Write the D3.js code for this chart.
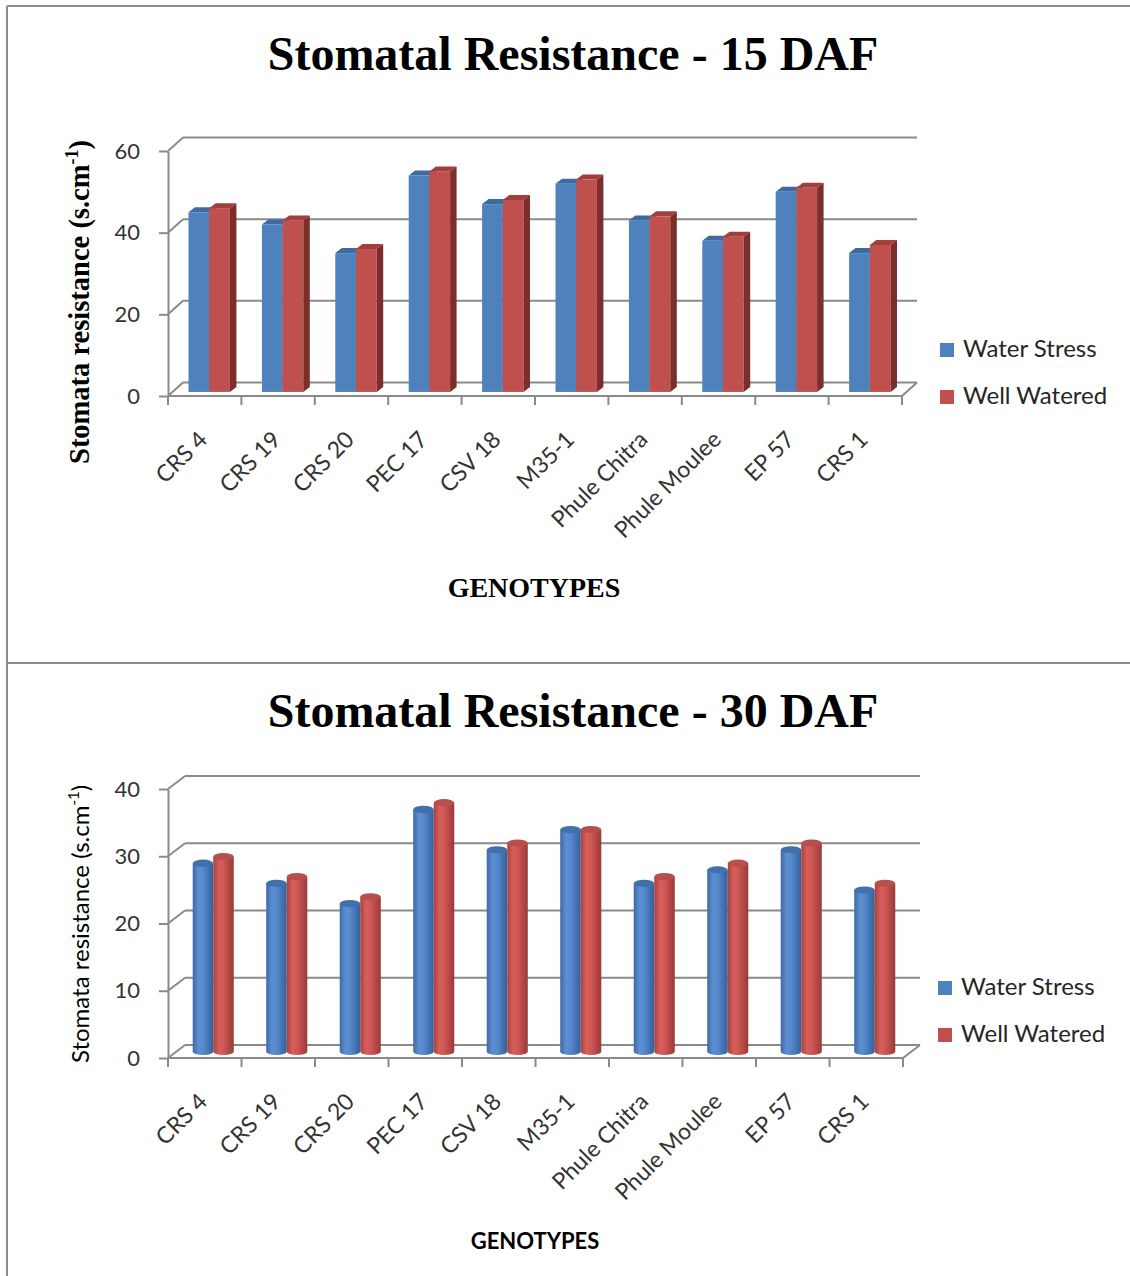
<!DOCTYPE html>
<html>
<head>
<meta charset="utf-8">
<script src="https://cdn.jsdelivr.net/npm/d3@7"></script>
<style>
  body { margin: 0; background: #fff; }
  svg { display: block; }
</style>
</head>
<body>
<svg id="chart" width="1130" height="1276"></svg>
<script>
// Genotypes on the category axis
const genotypes = ["CRS 4", "CRS 19", "CRS 20", "PEC 17", "CSV 18", "M35-1",
                   "Phule Chitra", "Phule Moulee", "EP 57", "CRS 1"];
const seriesNames = ["Water Stress", "Well Watered"];

// Stomatal resistance (s.cm-1), 15 days after flowering
const waterStress15 = [44, 41, 34, 53, 46, 51, 42, 37, 49, 34];
const wellWatered15 = [45, 42, 35, 54, 47, 52, 43, 38, 50, 36];

// Stomatal resistance (s.cm-1), 30 days after flowering
const waterStress30 = [28, 25, 22, 36, 30, 33, 25, 27, 30, 24];
const wellWatered30 = [29, 26, 23, 37, 31, 33, 26, 28, 31, 25];

const ticks15 = [0, 20, 40, 60];
const ticks30 = [0, 10, 20, 30, 40];

const titles = ["Stomatal Resistance - 15 DAF", "Stomatal Resistance - 30 DAF"];
const xTitle = "GENOTYPES";
const yTitle = "Stomata resistance (s.cm";
const yTitleSup = "-1";

const SANS = "Lato, 'Open Sans', sans-serif";
const SERIF = "'Liberation Serif', 'Times New Roman', serif";
const GRID = "#8a8a8a";
const TEXT = "#262626";

const svg = d3.select("#chart");
const defs = svg.append("defs");

// horizontal shading for the cylinders
function cylGradient(id, stops) {
  const g = defs.append("linearGradient").attr("id", id)
    .attr("x1", "0%").attr("x2", "100%").attr("y1", "0%").attr("y2", "0%");
  stops.forEach(([o, c]) => g.append("stop").attr("offset", o).attr("stop-color", c));
}
cylGradient("cylBlue", [[0, "#3e69a3"], [0.28, "#5c8fd2"], [0.5, "#568ace"], [1, "#35609a"]]);
cylGradient("cylRed", [[0, "#a8413e"], [0.28, "#d65e5b"], [0.5, "#d05855"], [1, "#993a37"]]);

const palette = {
  "Water Stress": { front: "#4f81bd", top: "#3d6aa1", side: "#2f5485", cyl: "url(#cylBlue)", cap: "#4270ab" },
  "Well Watered": { front: "#c0504d", top: "#a23f3c", side: "#7b2e2c", cyl: "url(#cylRed)", cap: "#b7504d" }
};

// frame around both panels
svg.append("rect").attr("width", 1130).attr("height", 1276).attr("fill", "#fff");
const frame = svg.append("g").attr("stroke", "#8c8c8c").attr("stroke-width", 2).attr("fill", "none");
frame.append("line").attr("x1", 7).attr("y1", 6).attr("x2", 1130).attr("y2", 6);
frame.append("line").attr("x1", 7).attr("y1", 6).attr("x2", 7).attr("y2", 1276);
frame.append("line").attr("x1", 7).attr("y1", 663).attr("x2", 1130).attr("y2", 663);

const panels = [
  {
    title: titles[0], titleY: 70, ticks: ticks15,
    series: [waterStress15, wellWatered15],
    x0: 168, x1: 902, y0: 396, yTop: 151,
    depth: [15, -13.5], plane: 0.3, shape: "box", barPad: 0.773,
    yLabel: { font: SERIF, size: 28.5, weight: "bold", x: 89, y: 302 },
    xLabel: { font: SERIF, size: 28, weight: "bold", x: 534, y: 597 },
    legend: { x: 940, y: 343 }
  },
  {
    title: titles[1], titleY: 727, ticks: ticks30,
    series: [waterStress30, wellWatered30],
    x0: 168, x1: 903, y0: 1058, yTop: 789,
    depth: [17, -13], plane: 0.5, shape: "cylinder", barPad: 0.79,
    yLabel: { font: SANS, size: 24, weight: "normal", x: 89, y: 924 },
    xLabel: { font: SANS, size: 22, weight: "bold", x: 535, y: 1249 },
    legend: { x: 938, y: 981 }
  }
];

panels.forEach(drawPanel);

function drawPanel(p) {
  const g = svg.append("g");
  const [dx, dy] = p.depth;
  const x = d3.scaleBand().domain(genotypes).range([p.x0, p.x1]);
  const y = d3.scaleLinear().domain([0, d3.max(p.ticks)]).range([p.y0, p.yTop]);
  const sub = d3.scaleBand().domain(seriesNames).range([0, x.bandwidth()])
    .paddingInner(0).paddingOuter(p.barPad);

  // title
  g.append("text").attr("x", 573).attr("y", p.titleY)
    .attr("text-anchor", "middle")
    .style("font-family", SERIF).style("font-weight", "bold").style("font-size", "48px")
    .attr("fill", "#000").text(p.title);

  // back wall gridlines and side wall diagonals
  const walls = g.append("g").attr("stroke", GRID).attr("stroke-width", 2).attr("fill", "none");
  p.ticks.forEach(t => {
    walls.append("line")
      .attr("x1", p.x0 + dx).attr("y1", y(t) + dy)
      .attr("x2", p.x1 + dx).attr("y2", y(t) + dy);
    walls.append("line")
      .attr("x1", p.x0).attr("y1", y(t))
      .attr("x2", p.x0 + dx).attr("y2", y(t) + dy);
  });
  // right edge of the floor
  walls.append("line")
    .attr("x1", p.x1).attr("y1", y(0))
    .attr("x2", p.x1 + dx).attr("y2", y(0) + dy);

  // bars
  const px = dx * p.plane, py = dy * p.plane;
  const bars = g.append("g");
  genotypes.forEach((c, i) => {
    seriesNames.forEach((s, k) => {
      const v = p.series[k][i];
      const col = palette[s];
      const left = x(c) + sub(s) + px;
      const w = sub.bandwidth();
      const yb = y(0) + py;
      const yt = y(v) + py;
      if (p.shape === "box") {
        const bdx = 6.5, bdy = -5;
        bars.append("rect").attr("x", left).attr("y", yt)
          .attr("width", w).attr("height", yb - yt).attr("fill", col.front);
        bars.append("path").attr("fill", col.top)
          .attr("d", `M${left},${yt}L${left + bdx},${yt + bdy}L${left + w + bdx},${yt + bdy}L${left + w},${yt}Z`);
        bars.append("path").attr("fill", col.side)
          .attr("d", `M${left + w},${yt}L${left + w + bdx},${yt + bdy}L${left + w + bdx},${yb + bdy}L${left + w},${yb}Z`);
      } else {
        const rx = w / 2, ry = 3.6;
        bars.append("path").attr("fill", col.cyl)
          .attr("d", `M${left},${yt}L${left},${yb}A${rx},${ry} 0 0 0 ${left + w},${yb}L${left + w},${yt}Z`);
        bars.append("ellipse").attr("cx", left + rx).attr("cy", yt)
          .attr("rx", rx).attr("ry", ry).attr("fill", col.cap);
      }
    });
  });

  // value axis
  const yAxis = g.append("g").attr("transform", `translate(${p.x0},0)`)
    .call(d3.axisLeft(y).tickValues(p.ticks).tickSize(9).tickSizeOuter(0).tickPadding(19));
  yAxis.selectAll("path, line").attr("stroke", GRID).attr("stroke-width", 2);
  yAxis.selectAll("text").style("font-family", SANS).style("font-size", "22px")
    .attr("fill", "#333");

  // category axis with ticks on the band edges
  const xa = g.append("g").attr("stroke", GRID).attr("stroke-width", 2);
  xa.append("line").attr("x1", p.x0).attr("y1", y(0)).attr("x2", p.x1).attr("y2", y(0));
  d3.range(genotypes.length + 1).forEach(i => {
    const xt = p.x0 + i * x.step();
    xa.append("line").attr("x1", xt).attr("y1", y(0)).attr("x2", xt).attr("y2", y(0) + 9);
  });
  g.append("g").selectAll("text").data(genotypes).join("text")
    .attr("transform", c => `translate(${x(c) + x.bandwidth() / 2 + 4},${y(0) + 45}) rotate(-45)`)
    .attr("text-anchor", "end")
    .style("font-family", SANS).style("font-size", "23px")
    .attr("fill", "#333").text(c => c);

  // axis titles
  g.append("text").attr("x", p.xLabel.x).attr("y", p.xLabel.y)
    .attr("text-anchor", "middle")
    .style("font-family", p.xLabel.font).style("font-weight", p.xLabel.weight)
    .style("font-size", p.xLabel.size + "px").attr("fill", "#000").text(xTitle);

  const yl = g.append("text")
    .attr("transform", `translate(${p.yLabel.x},${p.yLabel.y}) rotate(-90)`)
    .attr("text-anchor", "middle")
    .style("font-family", p.yLabel.font).style("font-weight", p.yLabel.weight)
    .style("font-size", p.yLabel.size + "px").attr("fill", "#000");
  yl.append("tspan").text(yTitle);
  yl.append("tspan").attr("dy", -p.yLabel.size * 0.4)
    .style("font-size", Math.round(p.yLabel.size * 0.62) + "px").text(yTitleSup);
  yl.append("tspan").attr("dy", p.yLabel.size * 0.4).text(")");

  // legend
  const lg = g.append("g").attr("transform", `translate(${p.legend.x},${p.legend.y})`);
  seriesNames.forEach((s, k) => {
    lg.append("rect").attr("x", 0).attr("y", k * 47).attr("width", 14).attr("height", 14)
      .attr("fill", palette[s].front);
    lg.append("text").attr("x", 23).attr("y", k * 47 + 14)
      .style("font-family", SANS).style("font-size", "24px").attr("fill", TEXT).text(s);
  });
}
</script>
</body>
</html>
